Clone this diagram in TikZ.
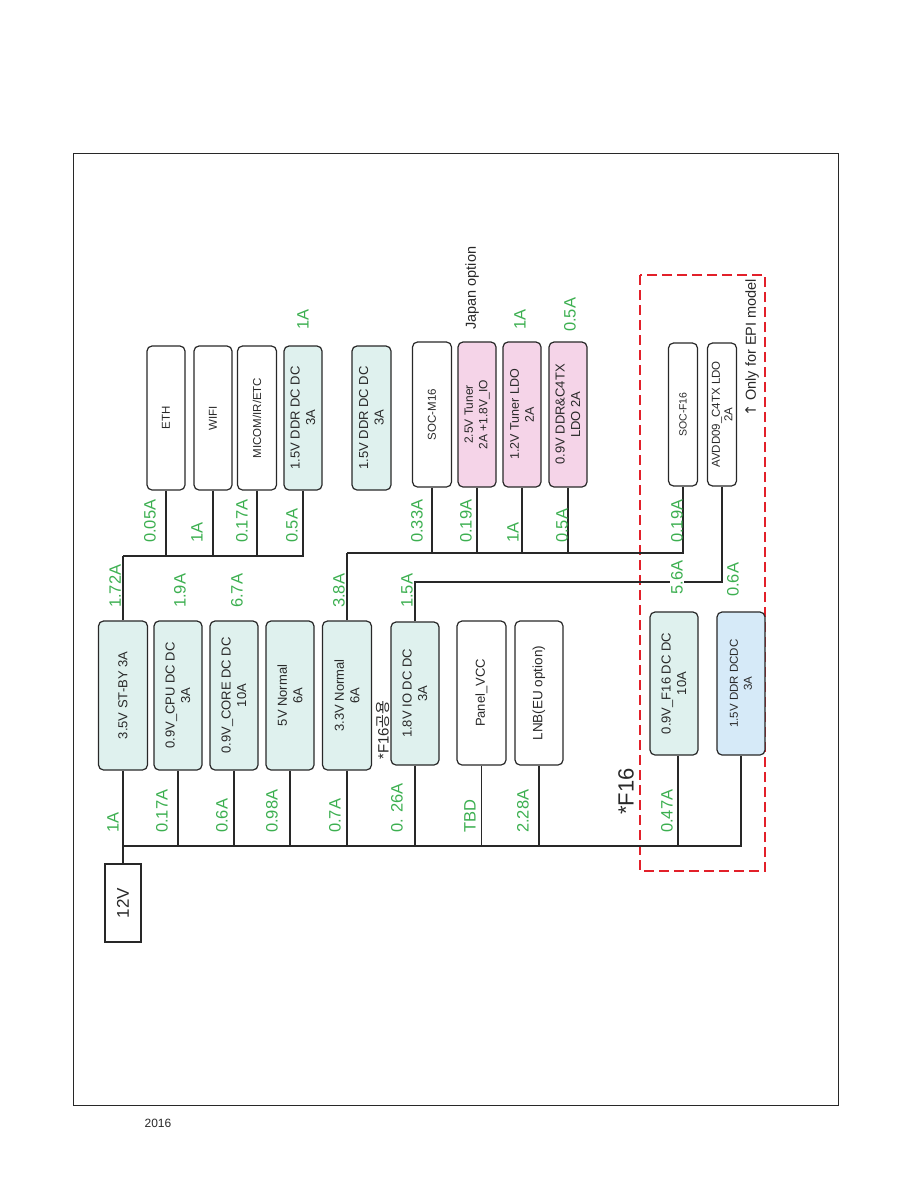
\documentclass[tikz,border=0pt]{standalone}
\usepackage{fontspec}
\setmainfont{Liberation Sans}
\newfontfamily\kofont{Noto Sans CJK KR}
\newfontfamily\djv{DejaVu Sans}
\usetikzlibrary{calc}
\definecolor{lblgreen}{RGB}{60,175,80}
\definecolor{tealfill}{RGB}{223,241,238}
\definecolor{pinkfill}{RGB}{245,212,232}
\definecolor{bluefill}{RGB}{214,234,248}
\definecolor{redbox}{RGB}{226,32,42}
\definecolor{ink}{RGB}{40,40,40}
\tikzset{
  pbox/.style={draw=ink, line width=1.2pt, rounded corners=5pt, rotate=90, align=center,
    inner sep=1pt, text=ink, font=\fontsize{13}{15.5}\selectfont},
  smalltxt/.style={font=\fontsize{11.5}{14}\selectfont},
  tinytxt/.style={font=\fontsize{10.5}{12}\selectfont},
  teal/.style={fill=tealfill},
  pink/.style={fill=pinkfill},
  blue/.style={fill=bluefill},
  wire/.style={draw=ink, line width=1.1pt},
  thickwire/.style={draw=ink, line width=1.8pt},
  lbl/.style={rotate=90, anchor=west, inner sep=0pt, text=lblgreen, font=\fontsize{16.5}{18}\selectfont},
  note/.style={rotate=90, anchor=west, inner sep=0pt, text=ink}
}
\begin{document}
\begin{tikzpicture}[x=1pt,y=-1pt]
\useasboundingbox (0,0) rectangle (914,1191);
\draw[line width=1pt, ink] (73,153) rectangle (838,1105);
\node[font=\fontsize{12}{14}\selectfont, text=ink] (year) at (158,1123) {2016};

% red dashed region
\draw[redbox, line width=2.4pt, dash pattern=on 10pt off 5pt] (640,275) rectangle (765,871);

% source
\node[draw=ink, line width=1.4pt, rotate=90, minimum width=78pt, minimum height=36pt, inner sep=0pt,
  font=\fontsize{17}{19}\selectfont, text=ink] (v12) at (123,903) {12V};

% first row of regulators
\node[pbox, teal, minimum width=149pt, minimum height=49pt] (stby) at (123,695.5) {3.5V ST-BY 3A};
\node[pbox, teal, minimum width=149pt, minimum height=48pt] (cpu) at (178,695.5) {0.9V\_CPU DC DC\\3A};
\node[pbox, teal, minimum width=149pt, minimum height=48pt] (core) at (234,695.5) {0.9V\_CORE DC DC\\10A};
\node[pbox, teal, minimum width=149pt, minimum height=48pt] (v5) at (290,695.5) {5V Normal\\6A};
\node[pbox, teal, minimum width=149pt, minimum height=49pt] (v33) at (347,695.5) {3.3V Normal\\6A};
\node[pbox, teal, minimum width=143pt, minimum height=48pt] (io18) at (415,693.5) {1.8V IO DC DC\\3A};
\node[pbox, minimum width=144pt, minimum height=49pt] (panel) at (481.5,693) {Panel\_VCC};
\node[pbox, font=\fontsize{13.5}{16}\selectfont, minimum width=144pt, minimum height=48pt] (lnb) at (539,693) {LNB(EU option)};
\node[pbox, teal, minimum width=143pt, minimum height=48pt] (f16) at (674,683.5) {0.9V\_F16 DC DC\\10A};
\node[pbox, blue, smalltxt, minimum width=143pt, minimum height=48pt] (ddr2) at (741,683.5) {1.5V DDR DCDC\\3A};

% second row of loads
\node[pbox, smalltxt, minimum width=144pt, minimum height=38pt] (eth) at (166,418) {ETH};
\node[pbox, smalltxt, minimum width=144pt, minimum height=38pt] (wifi) at (213,418) {WIFI};
\node[pbox, smalltxt, minimum width=144pt, minimum height=39pt] (micom) at (257,418) {MICOM/IR/ETC};
\node[pbox, teal, minimum width=144pt, minimum height=38pt] (ddr1) at (303,418) {1.5V DDR DC DC\\3A};
\node[pbox, teal, minimum width=144pt, minimum height=39pt] (ddr1b) at (371.5,418) {1.5V DDR DC DC\\3A};
\node[pbox, smalltxt, minimum width=145pt, minimum height=39pt] (socm) at (432,414.5) {SOC-M16};
\node[pbox, pink, font=\fontsize{12}{14.5}\selectfont, minimum width=145pt, minimum height=38pt] (tuner25) at (477,414.5) {2.5V Tuner\\2A +1.8V\_IO};
\node[pbox, pink, font=\fontsize{12.5}{15}\selectfont, minimum width=145pt, minimum height=38pt] (tuner12) at (522,414.5) {1.2V Tuner LDO\\2A};
\node[pbox, pink, minimum width=145pt, minimum height=38pt] (ddr09) at (568,414.5) {0.9V DDR\&C4TX\\LDO 2A};
\node[pbox, tinytxt, minimum width=143pt, minimum height=29pt] (socf) at (683,414.5) {SOC-F16};
\node[pbox, font=\fontsize{11.5}{12.5}\selectfont, minimum width=143pt, minimum height=29pt] (avdd) at (722,414.5) {AVDD09\_C4TX LDO\\2A};

% 12V bus
\coordinate (busL) at (123,846);
\coordinate (busR) at (741,846);
\draw[thickwire] (v12.east) -- (stby.west);
\draw[wire, line width=1.5pt] (busL) -- (busR) -- (ddr2.west);
\draw[wire] (cpu.west) -- (cpu.west |- busL);
\draw[wire] (core.west) -- (core.west |- busL);
\draw[thickwire] (v5.west) -- (v5.west |- busL);
\draw[wire] (v33.west) -- (v33.west |- busL);
\draw[wire] (io18.west) -- (io18.west |- busL);
\draw[wire] (panel.west) -- (panel.west |- busL);
\draw[wire] (lnb.west) -- (lnb.west |- busL);
\draw[wire] ([xshift=4pt]f16.west) -- ([xshift=4pt]f16.west |- busL);

% 3.5V ST-BY branch
\coordinate (t1) at (123,556);
\draw[thickwire] (stby.east) -- (t1);
\draw[wire, line width=1.4pt] (t1) -| (ddr1.west);
\draw[wire] (eth.west) -- (eth.west |- t1);
\draw[wire] (wifi.west) -- (wifi.west |- t1);
\draw[thickwire] (micom.west) -- (micom.west |- t1);

% 3.3V branch
\coordinate (t2) at (347,553);
\draw[thickwire] (v33.east) -- (t2);
\draw[wire, line width=1.5pt] (t2) -| (socf.west);
\draw[wire] (socm.west) -- (socm.west |- t2);
\draw[wire] (tuner25.west) -- (tuner25.west |- t2);
\draw[wire] (tuner12.west) -- (tuner12.west |- t2);
\draw[wire] (ddr09.west) -- (ddr09.west |- t2);

% 1.8V branch
\coordinate (t3) at (415,582);
\draw[wire] (io18.east) -- (t3) -| (avdd.west);

% current labels (bottom)
\node[lbl] (a1) at (113,833) {1A};
\node[lbl] (a2) at (162,833) {0.17A};
\node[lbl] (a3) at (222,833) {0.6A};
\node[lbl] (a4) at (272,833) {0.98A};
\node[lbl] (a5) at (335,833) {0.7A};
\node[lbl] (a6) at (397,833) {0. 26A};
\node[lbl] (a7) at (470,833) {TBD};
\node[lbl] (a8) at (523,833) {2.28A};
\node[lbl] (a9) at (667,833) {0.47A};

% current labels (middle)
\node[lbl] (b1) at (115,608) {1.72A};
\node[lbl] (b2) at (180,608) {1.9A};
\node[lbl] (b3) at (237,608) {6.7A};
\node[lbl] (b4) at (339,608) {3.8A};
\node[lbl] (b5) at (407,608) {1.5A};
\node[lbl, fill=white, inner sep=1.5pt] (b6) at (677,596) {5.6A};
\node[lbl] (b7) at (733,597) {0.6A};

% current labels (upper)
\node[lbl] (c1) at (150,543) {0.05A};
\node[lbl] (c2) at (197,543) {1A};
\node[lbl] (c3) at (242,543) {0.17A};
\node[lbl] (c4) at (292,543) {0.5A};
\node[lbl] (c5) at (417,543) {0.33A};
\node[lbl] (c6) at (466,543) {0.19A};
\node[lbl] (c7) at (513,543) {1A};
\node[lbl] (c8) at (562,543) {0.5A};
\node[lbl] (c9) at (677,543) {0.19A};

% current labels (top)
\node[lbl] (d1) at (303,330) {1A};
\node[lbl] (d2) at (520,330) {1A};
\node[lbl] (d3) at (570,332) {0.5A};

% notes
\node[note, font=\fontsize{14.5}{16}\selectfont] (japan) at (472,330) {Japan option};
\node[note, font=\fontsize{14.5}{16}\selectfont] (epi) at (752,417) {{\djv ↑} Only for EPI model};
\node[note, font=\fontsize{15}{17}\selectfont] (f16share) at (383,760) {*F16{\kofont 공용}};
\node[note, font=\fontsize{22}{24}\selectfont] (f16note) at (626,815) {*F16};
\end{tikzpicture}
\end{document}
